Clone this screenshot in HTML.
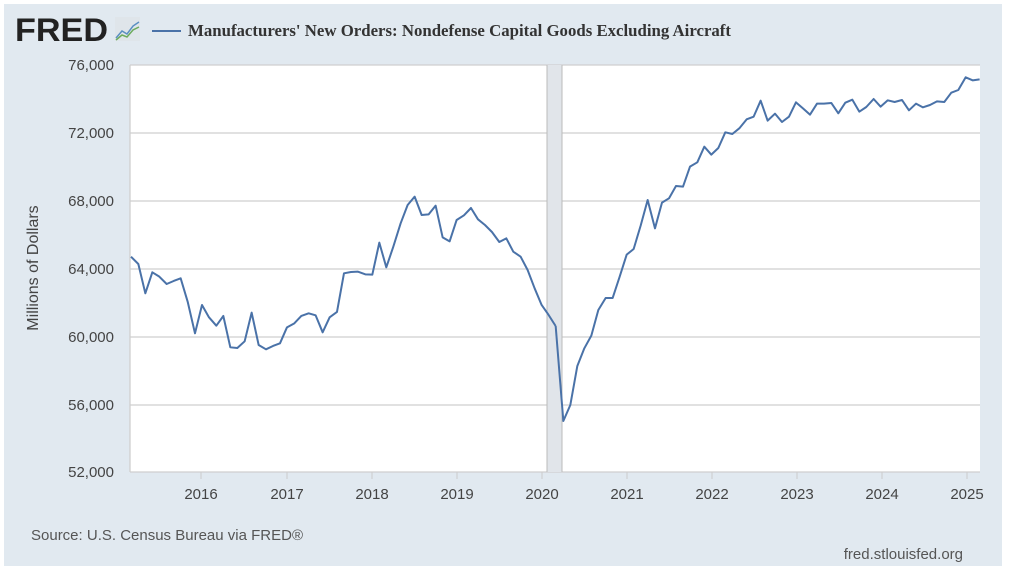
<!DOCTYPE html>
<html><head><meta charset="utf-8"><style>
html,body{margin:0;padding:0;background:#fff;}
svg{display:block;}
text{font-family:"Liberation Sans",Arial,sans-serif;}
</style></head><body>
<svg width="1009" height="569" viewBox="0 0 1009 569" xmlns="http://www.w3.org/2000/svg">
<rect x="4" y="4" width="998" height="562" fill="#e1e9f0"/>
<text x="15" y="41" font-size="32" font-weight="bold" fill="#222" textLength="93" lengthAdjust="spacingAndGlyphs">FRED</text>
<rect x="115" y="17" width="25" height="24" fill="#dfe5ea"/>
<polyline points="116,38 122,31 127,34 133,26 139,22" fill="none" stroke="#5a8fc2" stroke-width="1.5"/>
<polyline points="116,40 122,35 127,37 133,30 139,27" fill="none" stroke="#6cab5d" stroke-width="1.5"/>
<line x1="152" y1="31" x2="181" y2="31" stroke="#4a72a8" stroke-width="2"/>
<text x="188" y="36" style="font-family:'Liberation Serif',serif" font-size="16.5" font-weight="bold" fill="#333" textLength="543" lengthAdjust="spacingAndGlyphs">Manufacturers' New Orders: Nondefense Capital Goods Excluding Aircraft</text>
<rect x="130" y="65" width="850" height="407" fill="#fff"/>
<g stroke="#cfcfcf" stroke-width="1.3">
<line x1="130" x2="980" y1="65" y2="65"/>
<line x1="130" x2="980" y1="133" y2="133"/>
<line x1="130" x2="980" y1="201" y2="201"/>
<line x1="130" x2="980" y1="269" y2="269"/>
<line x1="130" x2="980" y1="337" y2="337"/>
<line x1="130" x2="980" y1="405" y2="405"/>
<line x1="130" x2="980" y1="472" y2="472"/>
<line x1="130" x2="130" y1="65" y2="472"/>
</g>
<rect x="547" y="65" width="15" height="407" fill="#e1e5ea"/>
<line x1="547" x2="547" y1="65" y2="472" stroke="#bbb"/>
<line x1="562" x2="562" y1="65" y2="472" stroke="#bbb"/>
<g stroke="#ccc"><line x1="201" x2="201" y1="472" y2="479"/><line x1="287" x2="287" y1="472" y2="479"/><line x1="372" x2="372" y1="472" y2="479"/><line x1="457" x2="457" y1="472" y2="479"/><line x1="542" x2="542" y1="472" y2="479"/><line x1="627" x2="627" y1="472" y2="479"/><line x1="712" x2="712" y1="472" y2="479"/><line x1="797" x2="797" y1="472" y2="479"/><line x1="882" x2="882" y1="472" y2="479"/><line x1="967" x2="967" y1="472" y2="479"/></g>
<g font-size="15" fill="#444" text-anchor="end">
<text x="114" y="70">76,000</text><text x="114" y="138">72,000</text><text x="114" y="206">68,000</text><text x="114" y="274">64,000</text><text x="114" y="342">60,000</text><text x="114" y="410">56,000</text><text x="114" y="477">52,000</text>
</g>
<g font-size="15" fill="#444" text-anchor="middle">
<text x="201" y="499">2016</text><text x="287" y="499">2017</text><text x="372" y="499">2018</text><text x="457" y="499">2019</text><text x="542" y="499">2020</text><text x="627" y="499">2021</text><text x="712" y="499">2022</text><text x="797" y="499">2023</text><text x="882" y="499">2024</text><text x="967" y="499">2025</text>
</g>
<text transform="translate(38,268) rotate(-90)" font-size="16" fill="#444" text-anchor="middle">Millions of Dollars</text>
<text x="31" y="540" font-size="15" fill="#555">Source: U.S. Census Bureau via FRED®</text>
<text x="963" y="559" font-size="15" fill="#555" text-anchor="end">fred.stlouisfed.org</text>
<g fill="none" stroke="#4a72a8" stroke-width="2" stroke-linejoin="round">
<polyline transform="translate(120,180) scale(0.3333)" points="33,230 55,252 76,340 97,277 118,290 140,312 161,303 182,295 203,365 225,460 246,375 267,412 289,437 310,408 331,502 352,504 374,484 395,398 416,495 438,508 459,498 480,490 501,442 523,430 544,408 566,400 587,406 608,457 629,412 651,396 672,280 693,276 714,275 736,283 757,284 778,188 799,262 820,200 842,130 863,75 884,50 905,105 926,103 947,77 968,172 989,184 1010,120 1032,106 1053,84 1074,118 1095,135 1116,156 1138,186 1159,175 1180,215 1202,230 1223,270 1244,325 1265,375 1286,405 1307,438" stroke-width="6"/>
<polyline transform="translate(540,60) scale(0.3333)" points="47,798 70,1083 91,1035 112,918 133,865 154,827 175,750 197,714 218,714 239,650 260,584 281,567 302,497 323,420 345,505 366,428 387,415 408,378 429,380 450,320 472,307 493,260 514,284 535,264 556,217 577,222 598,205 620,178 641,170 662,122 683,182 705,161 726,186 747,170 768,127 789,145 810,164 831,131 852,131 874,129 895,160 916,128 937,119 958,155 979,141 1001,117 1022,140 1043,121 1064,126 1086,120 1107,151 1128,131 1149,142 1170,135 1191,124 1213,126 1234,98 1255,90 1277,52 1298,61 1319,58" stroke-width="6"/>
</g>
</svg>
</body></html>
